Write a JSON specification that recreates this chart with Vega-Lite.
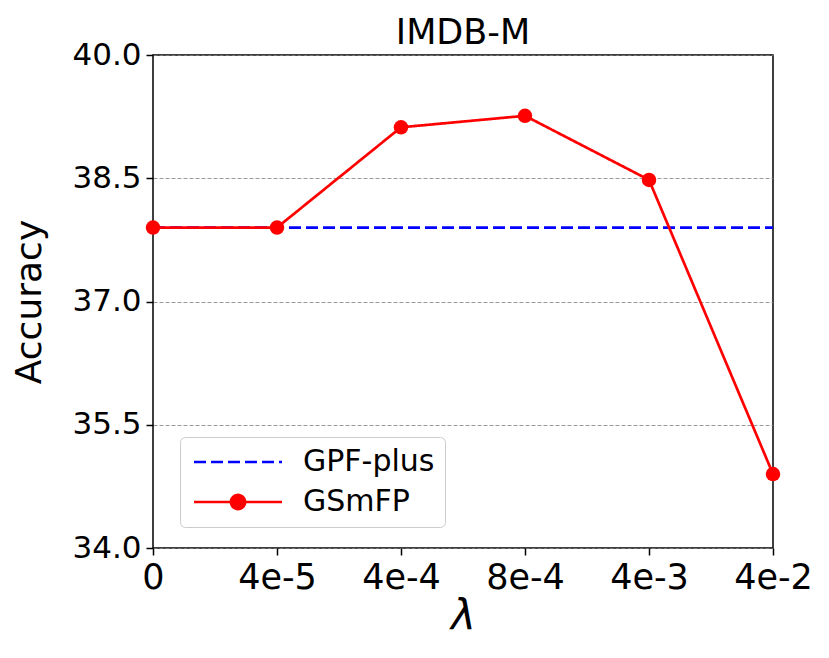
{
  "$schema": "https://vega.github.io/schema/vega-lite/v6.json",
  "autosize": {"type": "none"},
  "padding": {"left": 153, "top": 55, "right": 56, "bottom": 110},
  "width": 620,
  "height": 493,
  "title": {"text": "IMDB-M", "fontSize": 35, "fontWeight": "normal", "offset": -12},
  "data": {
    "values": [
      {"lam": "0", "series": "GPF-plus", "acc": 37.9},
      {"lam": "4e-5", "series": "GPF-plus", "acc": 37.9},
      {"lam": "4e-4", "series": "GPF-plus", "acc": 37.9},
      {"lam": "8e-4", "series": "GPF-plus", "acc": 37.9},
      {"lam": "4e-3", "series": "GPF-plus", "acc": 37.9},
      {"lam": "4e-2", "series": "GPF-plus", "acc": 37.9},
      {"lam": "0", "series": "GSmFP", "acc": 37.9},
      {"lam": "4e-5", "series": "GSmFP", "acc": 37.9},
      {"lam": "4e-4", "series": "GSmFP", "acc": 39.12},
      {"lam": "8e-4", "series": "GSmFP", "acc": 39.26},
      {"lam": "4e-3", "series": "GSmFP", "acc": 38.48},
      {"lam": "4e-2", "series": "GSmFP", "acc": 34.9}
    ]
  },
  "encoding": {
    "x": {
      "field": "lam", "type": "ordinal",
      "sort": ["0", "4e-5", "4e-4", "8e-4", "4e-3", "4e-2"],
      "scale": {"type": "point", "padding": 0},
      "axis": {"title": "λ", "titleFontStyle": "italic", "titleFontSize": 42, "labelFontSize": 35, "labelAngle": 0, "titlePadding": 1}
    },
    "y": {
      "field": "acc", "type": "quantitative",
      "scale": {"domain": [34, 40], "nice": false, "zero": false},
      "axis": {"title": "Accuracy", "values": [34, 35.5, 37, 38.5, 40], "format": ".1f", "grid": true, "labelFontSize": 31, "titleFontSize": 36, "titlePadding": 23}
    },
    "color": {
      "field": "series", "type": "nominal",
      "scale": {"domain": ["GPF-plus", "GSmFP"], "range": ["#0000ff", "#ff0000"]},
      "legend": {
        "title": null, "orient": "none", "legendX": 27, "legendY": 382,
        "encode": {"symbols": {"update": {"fill": {"value": "#ff0000"}}}}
      }
    }
  },
  "layer": [
    {
      "mark": {"type": "line", "strokeWidth": 2.7},
      "encoding": {
        "strokeDash": {
          "field": "series", "type": "nominal",
          "scale": {"domain": ["GPF-plus", "GSmFP"], "range": [[12, 5], [1, 0]]},
          "legend": {"title": null}
        }
      }
    },
    {
      "transform": [{"filter": "datum.series == 'GSmFP'"}],
      "mark": {"type": "circle", "opacity": 1, "size": 210}
    },
    {
      "transform": [{"filter": "false"}],
      "mark": {"type": "point", "filled": true, "opacity": 1},
      "encoding": {
        "shape": {
          "field": "series", "type": "nominal",
          "scale": {
            "domain": ["GPF-plus", "GSmFP"],
            "range": ["M-1,0L7,0", "M-1,0L7,0M3.64,0A0.64,0.64,0,1,1,2.36,0A0.64,0.64,0,1,1,3.64,0"]
          },
          "legend": {"title": null}
        }
      }
    }
  ],
  "config": {
    "font": "DejaVu Sans",
    "view": {"stroke": "black", "strokeWidth": 1.5},
    "axis": {
      "domain": false,
      "ticks": true, "tickColor": "black", "tickWidth": 1.5, "tickSize": 7,
      "labelFont": "DejaVu Sans", "labelColor": "black", "labelPadding": 5,
      "titleFont": "DejaVu Sans", "titleFontWeight": "normal", "titleColor": "black",
      "gridColor": "#808080", "gridDash": [4, 2], "gridWidth": 0.8
    },
    "axisX": {"grid": false},
    "legend": {
      "padding": 10, "fillColor": "white", "strokeColor": "#cccccc", "cornerRadius": 5,
      "symbolSize": 484, "symbolStrokeWidth": 2.7, "symbolOpacity": 1,
      "labelFontSize": 30, "labelFont": "DejaVu Sans", "labelColor": "black", "labelOffset": 83,
      "rowPadding": 10
    }
  }
}
